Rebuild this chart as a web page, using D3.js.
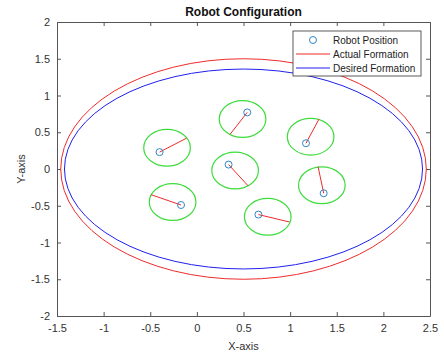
<!DOCTYPE html>
<html lang="en">
<head>
    <meta charset="UTF-8">
    <title>Robot Configuration</title>
    <script src="https://d3js.org/d3.v7.min.js"></script>
    <style>
        body {
            margin: 0;
            background: #fff;
            font-family: 'Liberation Sans', Arial, sans-serif;
        }
        svg text {
            fill: #333;
        }
    </style>
</head>
<body>
    <svg id="chart" width="444" height="358"></svg>

    <script>
        // robots (blue circles)
        const robotX = [-0.40, 0.54, 1.17, 0.34, 1.36, -0.17, 0.66];
        const robotY = [0.23, 0.77, 0.35, 0.06, -0.33, -0.49, -0.62];
        // target circles (green)
        const targetX = [-0.32, 0.49, 1.22, 0.41, 1.34, -0.26, 0.76];
        const targetY = [0.29, 0.68, 0.44, -0.02, -0.22, -0.45, -0.65];
        const targetRadius = 0.25;
        // red heading lines, robot -> point on target circle
        const headX = [-0.11, 0.355, 1.31, 0.55, 1.30, -0.49, 0.99];
        const headY = [0.42, 0.47, 0.68, -0.23, 0.03, -0.35, -0.72];

        // formation ellipses
        const formationNames = ['Actual Formation', 'Desired Formation'];
        const formationCx = [0.5, 0.5];
        const formationCy = [0, 0];
        const formationA = [1.96, 1.92];
        const formationB = [1.50, 1.36];
        const formationColors = ['#ee2b2b', '#2020ee'];

        const xTicks = [-1.5, -1, -0.5, 0, 0.5, 1, 1.5, 2, 2.5];
        const yTicks = [-2, -1.5, -1, -0.5, 0, 0.5, 1, 1.5, 2];

        const svg = d3.select('#chart');
        const margin = { top: 22, right: 14, bottom: 42, left: 57 };
        const width = 444 - margin.left - margin.right;
        const height = 358 - margin.top - margin.bottom;

        const x = d3.scaleLinear().domain([-1.5, 2.5]).range([0, width]);
        const y = d3.scaleLinear().domain([-2, 2]).range([height, 0]);

        const g = svg.append('g')
            .attr('transform', `translate(${margin.left},${margin.top})`);

        const fmt = d => String(d);

        // Оси со всех сторон, тики внутрь
        const axisColor = '#555';
        const axBottom = g.append('g')
            .attr('transform', `translate(0,${height})`)
            .call(d3.axisBottom(x).tickValues(xTicks).tickFormat(fmt).tickSizeInner(-4).tickSizeOuter(0).tickPadding(8));
        const axLeft = g.append('g')
            .call(d3.axisLeft(y).tickValues(yTicks).tickFormat(fmt).tickSizeInner(-4).tickSizeOuter(0).tickPadding(7));
        const axTop = g.append('g')
            .call(d3.axisTop(x).tickValues(xTicks).tickFormat('').tickSizeInner(-4).tickSizeOuter(0));
        const axRight = g.append('g')
            .attr('transform', `translate(${width},0)`)
            .call(d3.axisRight(y).tickValues(yTicks).tickFormat('').tickSizeInner(-4).tickSizeOuter(0));

        [axBottom, axLeft, axTop, axRight].forEach(a => {
            a.selectAll('path, line').attr('stroke', axisColor);
            a.selectAll('text')
                .style('font-size', '11px')
                .style('font-family', "'Liberation Sans', Arial, sans-serif")
                .attr('fill', '#333');
        });

        // Эллипсы формаций
        g.selectAll('ellipse.formation')
            .data(formationNames.map((n, i) => i))
            .enter()
            .append('ellipse')
            .attr('class', 'formation')
            .attr('cx', i => x(formationCx[i]))
            .attr('cy', i => y(formationCy[i]))
            .attr('rx', i => x(formationA[i]) - x(0))
            .attr('ry', i => y(0) - y(formationB[i]))
            .attr('fill', 'none')
            .attr('stroke', i => formationColors[i])
            .attr('stroke-width', 1);

        const idx = robotX.map((d, i) => i);

        // Целевые окружности
        g.selectAll('ellipse.target')
            .data(idx)
            .enter()
            .append('ellipse')
            .attr('class', 'target')
            .attr('cx', i => x(targetX[i]))
            .attr('cy', i => y(targetY[i]))
            .attr('rx', x(targetRadius) - x(0))
            .attr('ry', y(0) - y(targetRadius))
            .attr('fill', 'none')
            .attr('stroke', '#3ddc3d')
            .attr('stroke-width', 1.2);

        // Линии направления
        g.selectAll('line.head')
            .data(idx)
            .enter()
            .append('line')
            .attr('class', 'head')
            .attr('x1', i => x(robotX[i]))
            .attr('y1', i => y(robotY[i]))
            .attr('x2', i => x(headX[i]))
            .attr('y2', i => y(headY[i]))
            .attr('stroke', '#ee2b2b')
            .attr('stroke-width', 1);

        // Роботы
        g.selectAll('circle.robot')
            .data(idx)
            .enter()
            .append('circle')
            .attr('class', 'robot')
            .attr('cx', i => x(robotX[i]))
            .attr('cy', i => y(robotY[i]))
            .attr('r', 3.5)
            .attr('fill', 'none')
            .attr('stroke', '#2f86c6')
            .attr('stroke-width', 1);

        // Заголовок и подписи осей
        svg.append('text')
            .attr('x', margin.left + width / 2)
            .attr('y', 16)
            .attr('text-anchor', 'middle')
            .style('font-size', '12px')
            .style('font-weight', 'bold')
            .style('fill', '#111')
            .text('Robot Configuration');

        svg.append('text')
            .attr('x', margin.left + width / 2)
            .attr('y', 350)
            .attr('text-anchor', 'middle')
            .style('font-size', '11px')
            .text('X-axis');

        svg.append('text')
            .attr('transform', `translate(25,${margin.top + height / 2}) rotate(-90)`)
            .attr('text-anchor', 'middle')
            .style('font-size', '11px')
            .text('Y-axis');

        // Легенда
        const legend = svg.append('g').attr('transform', 'translate(293,31)');
        legend.append('rect')
            .attr('width', 128)
            .attr('height', 45)
            .attr('fill', '#fff')
            .attr('stroke', '#333')
            .attr('stroke-width', 0.8);

        const legendItems = ['Robot Position'].concat(formationNames);
        legendItems.forEach((name, i) => {
            const row = legend.append('g').attr('transform', `translate(0,${9 + i * 14})`);
            if (i === 0) {
                row.append('circle')
                    .attr('cx', 20).attr('cy', 0).attr('r', 3.5)
                    .attr('fill', 'none')
                    .attr('stroke', '#2f86c6');
            } else {
                row.append('line')
                    .attr('x1', 3).attr('x2', 37)
                    .attr('stroke', formationColors[i - 1]);
            }
            row.append('text')
                .attr('x', 40)
                .attr('y', 3.5)
                .style('font-size', '10px')
                .style('fill', '#222')
                .text(name);
        });
    </script>
</body>
</html>
